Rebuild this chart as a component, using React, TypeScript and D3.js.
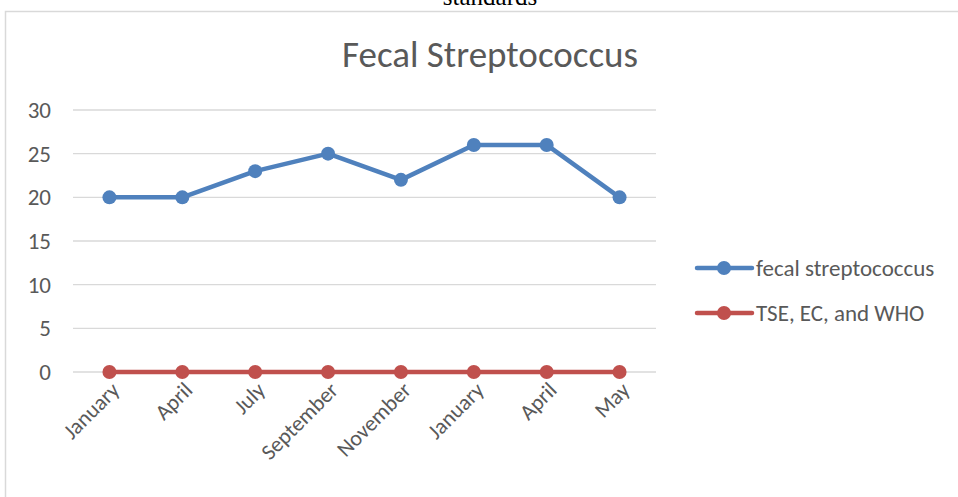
import React from "react";
import * as d3 from "d3";

const categories = ["January", "April", "July", "September", "November", "January", "April", "May"];
const fecalValues = [20, 20, 23, 25, 22, 26, 26, 20];
const standardValues = [0, 0, 0, 0, 0, 0, 0, 0];
const yTicks = [0, 5, 10, 15, 20, 25, 30];
const seriesNames = ["fecal streptococcus", "TSE, EC, and WHO"];
const seriesColors = ["#4F81BD", "#C0504D"];

const W = 958, H = 497;
const plotL = 73, plotR = 656, plotT = 110, plotB = 372;
const font = "Carlito, Calibri, 'Open Sans', 'Liberation Sans', sans-serif";

export default function App() {
  const x = d3.scaleBand<number>().domain(d3.range(categories.length)).range([plotL, plotR]);
  const y = d3.scaleLinear().domain([0, 30]).range([plotB, plotT]);
  const cx = (i: number) => (x(i) as number) + x.bandwidth() / 2;
  const line = d3.line<number>().x((_, i) => cx(i)).y((d) => y(d));
  const series = [fecalValues, standardValues];

  return (
    <svg width={W} height={H} style={{ position: "absolute", left: 0, top: 0, background: "#fff" }}>
      <text x={490} y={5} textAnchor="middle" fontFamily="'Liberation Serif', 'Times New Roman', serif" fontSize={25} fill="#000">standards</text>
      <rect x={5.5} y={11.5} width={W + 10} height={H + 10} fill="#fff" stroke="#d9d9d9" strokeWidth={1.5} />
      <text x={490} y={67} textAnchor="middle" fontFamily={font} fontSize={37} fill="#595959">Fecal Streptococcus</text>
      {yTicks.map((t) => (
        <g key={t}>
          <line x1={plotL} x2={plotR} y1={y(t)} y2={y(t)} stroke="#d9d9d9" strokeWidth={1.3} />
          <text x={51} y={y(t)} dy="0.35em" textAnchor="end" fontFamily={font} fontSize={23} fill="#595959">{t}</text>
        </g>
      ))}
      {categories.map((c, i) => (
        <text key={i} transform={`translate(${cx(i) + 6},${plotB + 14}) rotate(-45)`} textAnchor="end" dy="0.35em" fontFamily={font} fontSize={22} fill="#595959">{c}</text>
      ))}
      {series.map((s, k) => (
        <g key={k}>
          <path d={line(s) || ""} fill="none" stroke={seriesColors[k]} strokeWidth={4.5} strokeLinejoin="round" />
          {s.map((v, i) => (
            <circle key={i} cx={cx(i)} cy={y(v)} r={7} fill={seriesColors[k]} />
          ))}
        </g>
      ))}
      {seriesNames.map((n, k) => (
        <g key={n} transform={`translate(0,${268 + k * 45})`}>
          <line x1={697} x2={752} y1={0} y2={0} stroke={seriesColors[k]} strokeWidth={4.5} strokeLinecap="round" />
          <circle cx={724} cy={0} r={7} fill={seriesColors[k]} />
          <text x={756} y={0} dy="0.35em" fontFamily={font} fontSize={23} fill="#595959">{n}</text>
        </g>
      ))}
    </svg>
  );
}
